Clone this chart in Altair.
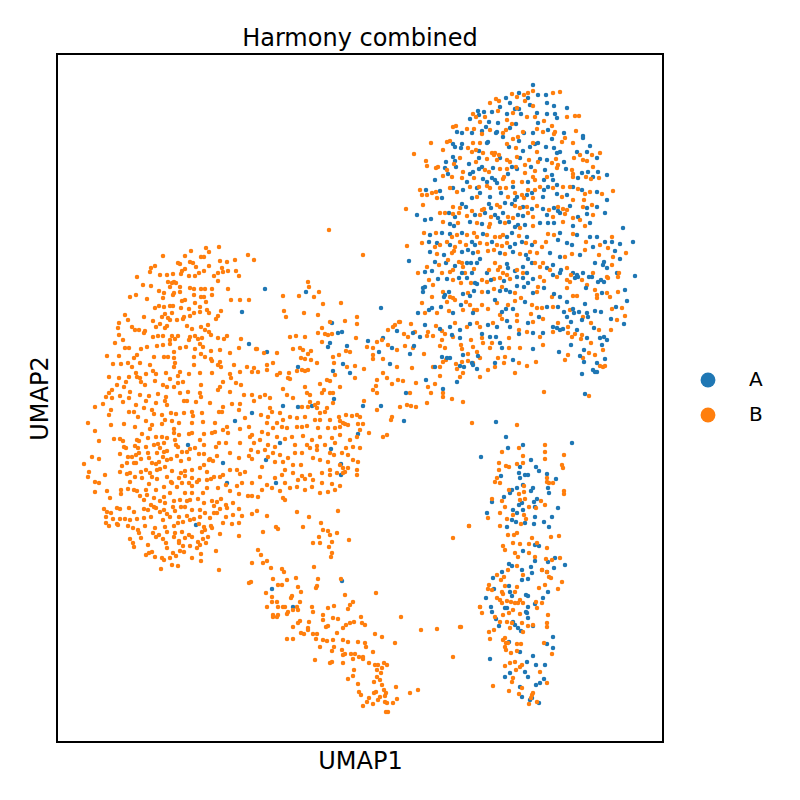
import altair as alt
import pandas as pd

# Positions (x: UMAP1, y: UMAP2, in the picture's own units)

# ---- batch A (blue) ----
A_LEFT = [(242,312),(249,344),(252,413),(235,421),(188,445),(223,463),(227,483),(196,525),
          (265,289),(306,292),(381,308),(332,323),(338,333),(342,332),(330,343),(328,347),(347,346),
          (368,341),(383,338),(397,331),(267,352),(343,364),(379,352),(390,364),(392,348),(298,367),
          (333,371),(350,373),(283,406),(298,407),(312,406),(334,399),(363,406),(381,406),(404,421),
          (358,434),(280,443),(331,449),(266,460),(341,464),(341,475),(276,483),
          (272,589),(293,607),(342,581)]

A_TOP = [(533,85),(538,95),(546,95),(519,93),(506,98),(528,98),(500,107),(547,103),(554,106),(567,108),
         (510,103),(530,105),(515,109),(519,109),(478,111),(479,115),(484,112),(492,112),(507,114),(521,114),
         (537,113),(547,114),(555,114),(557,118),(538,123),(470,119),(489,122),(498,123),(516,124),(457,132),
         (482,131),(486,127),(462,133),(472,133),(496,133),(497,132),(510,128),(524,133),(533,133),(548,130),
         (564,133),(583,136),(583,138),(552,139),(538,143),(503,137),(488,142),(487,143),(462,144),(453,144),
         (455,147),(461,148),(479,151),(509,147),(519,141),(523,151),(530,147),(535,144),(546,147),(554,148),
         (557,153),(560,152),(577,152),(587,152),(590,146),(597,158),(446,162),(453,157),(455,161),(469,164),
         (479,158),(500,158),(520,158),(540,159),(547,160),(564,162),(588,172),(445,168),(448,174),(456,167),
         (470,174),(473,172),(479,169),(482,167),(493,168),(508,174),(512,167),(517,169),(531,167),(545,170),
         (552,175),(566,169),(578,178),(582,173),(593,177),(598,172),(607,175),(435,180),(467,182),(483,179),
         (487,182),(492,178),(495,180),(497,183),(528,182),(544,180),(553,180),(557,185),(426,190),(440,191),
         (442,198),(453,188),(463,190),(477,188),(480,193),(501,193),(513,187),(517,197),(527,195),(532,193),
         (544,190),(548,187),(557,194),(573,187),(582,190),(597,192),(607,200),(472,198),(490,197),(515,200),
         (543,197),(567,195),(417,215),(462,204),(466,207),(489,204),(491,208),(505,203),(512,204),(523,207),
         (532,209),(543,209),(554,208),(558,211),(570,206),(587,208),(597,207),(449,213),(455,217),(475,215),
         (485,213),(495,215),(498,218),(503,213),(518,215),(523,216),(547,215),(560,213),(578,217),(587,214),
         (605,213),(431,219),(425,220),(450,224),(454,226),(470,222),(482,224),(500,222),(509,222),(515,227),
         (518,225),(525,225),(540,223),(548,223),(554,223),(573,226),(590,223),(623,228),(430,235),(442,233),
         (450,234),(462,233),(483,234),(507,237),(512,233),(527,237),(560,233),(577,235),(590,237),(597,237)]

A_MID = [(429,242),(437,243),(450,245),(472,242),(475,245),(492,242),(510,247),(515,244),(522,242),(532,245),
         (558,240),(567,243),(572,245),(593,247),(605,242),(612,242),(620,244),(633,242),(430,252),(444,255),
         (462,252),(468,250),(473,253),(500,253),(513,252),(526,255),(550,253),(560,257),(580,255),(615,251),
         (409,261),(435,262),(446,263),(455,266),(467,263),(471,263),(477,263),(480,259),(487,273),(507,264),
         (508,268),(515,271),(523,267),(528,259),(532,263),(547,268),(553,265),(561,270),(573,273),(577,275),
         (583,273),(589,277),(603,265),(607,268),(617,273),(635,276),(620,259),(604,262),(595,263),(425,272),
         (432,271),(462,273),(472,273),(423,288),(423,292),(438,279),(447,279),(459,278),(467,278),(475,283),
         (477,284),(491,280),(504,281),(517,277),(523,278),(527,273),(533,279),(528,283),(553,275),(560,273),
         (575,278),(578,277),(592,277),(598,282),(601,280),(604,282),(625,290),(602,293),(586,288),(560,297),
         (554,294),(544,288),(533,293),(524,287),(517,286),(510,292),(506,290),(500,291),(488,292),(474,291),
         (463,294),(445,295),(444,297),(449,292),(425,287),(418,313),(432,308),(429,310),(441,307),(453,313),
         (461,305),(470,296),(473,313),(495,300),(502,312),(506,309),(513,309),(525,302),(539,317),(547,307),
         (558,307),(564,312),(567,317),(573,309),(574,313),(579,312),(587,313),(595,311),(601,312),(611,319),
         (616,307),(624,324),(627,301),(585,304),(567,302),(413,333),(420,337),(425,325),(450,327),(460,330),
         (470,324),(482,334),(488,325),(497,327),(507,321),(510,327),(528,323),(553,327),(557,328),(563,329),
         (571,322),(577,330),(582,320),(588,317),(594,328),(600,338),(604,337),(587,338),(560,330),(543,333),
         (533,333),(519,334),(500,343),(496,337),(490,337),(460,338),(452,335),(440,329),(414,346),(410,354),
         (442,357),(447,358),(463,355),(478,356),(502,348),(533,349),(513,360),(495,363),(472,363),(473,365),
         (460,366),(450,358),(559,352),(580,356),(571,345),(584,350),(584,362),(597,363),(602,345),(605,359),
         (607,340),(426,380),(443,389),(435,367),(457,382),(464,367),(477,369),(582,374),(585,394),(595,372),
         (597,372),(593,370),(406,393)]

A_RIGHT = [(496,422),(506,437),(481,457),(508,448),(523,445),(572,443),(520,467),(531,460),(536,467),(539,471),
           (547,474),(556,479),(548,488),(549,493),(501,476),(519,473),(525,475),(528,475),(520,478),(523,485),
           (517,488),(531,491),(533,488),(512,490),(510,493),(492,502),(504,497),(519,505),(522,503),(534,502),
           (537,499),(535,507),(558,508),(513,510),(517,513),(487,513),(523,510),(512,520),(535,517),(552,517),
           (507,527),(516,522),(525,523),(534,524),(544,522),(549,527),(535,545),(539,546),(523,551),(535,561),
           (548,562),(555,558),(565,565),(509,564),(512,566),(531,567),(554,568),(522,570),
           (502,572),(493,578),(522,580),(528,579),(532,573),(547,572),(509,586),(494,589),(486,598),(510,592),
           (512,596),(526,595),(528,596),(548,592),(543,598),(535,604),(491,607),(492,612),(505,608),(507,608),
           (496,619),(513,622),(515,625),(527,613),(528,607),(526,612),(528,618),(533,626),(518,628),(521,631),
           (499,626),(520,652),(509,642),(547,644),(553,648),(553,637),(533,656),(490,659),(527,662),(525,672),
           (510,673),(505,677),(528,677),(536,665),(545,665),(536,685),(540,683),(544,679),(520,687),(522,697),
           (530,700),(532,698),(539,703)]

# ---- batch B (orange) ----
B_LEFT_UPPER = [(219,247),(206,248),(191,251),(209,252),(163,256),(185,256),(201,257),(204,257),(248,255),
    (254,260),(235,260),(220,261),(190,262),(178,263),(180,264),(193,263),(227,262),(155,266),(151,268),
    (209,266),(196,267),(222,268),(150,272),(182,271),(185,269),(204,271),(199,273),(218,273),(223,272),
    (228,271),(236,271),(239,276),(137,277),(160,275),(167,275),(173,274),(181,274),(189,276),(195,276),
    (214,276),(168,282),(174,282),(172,283),(176,283),(218,281),(143,285),(151,286),(170,287),(180,287),
    (190,288),(194,289),(201,289),(205,289),(212,289),(228,289),(159,291),(164,293),(174,293),(173,295),
    (180,292),(194,295),(201,297),(204,297),(212,295),(136,295),(130,297),(147,299),(163,298),(182,301),
    (185,300),(195,303),(206,302),(231,300),(240,300),(249,300),(155,308),(159,306),(164,307),(170,306),
    (173,306),(181,308),(189,309),(207,310),(221,311),(200,307),(165,314),(172,313),(162,317),(168,318),
    (194,313),(200,312),(209,313),(218,316),(144,317),(125,315),(128,320),(184,317),(183,319),(190,316),
    (170,320),(177,320),(216,319),(153,321),(160,324),(167,326),(156,327),(165,328),(187,326),(192,329),
    (201,327),(208,325),(119,323),(118,328),(132,327),(145,331),(139,330),(205,330),(209,332),(135,330),
    (119,335),(153,337),(158,336),(163,336),(172,336),(178,336),(190,337),(195,336),(202,338),(211,335),
    (218,338),(227,336),(241,339),(123,340),(115,343),(144,333),(170,340),(175,339),(189,340),(198,339),
    (224,339),(129,348),(125,348),(141,349),(147,347),(157,346),(163,345),(170,344),(180,348),(186,347),
    (195,349),(200,344),(203,347),(211,351),(220,350),(230,353),(239,348),(256,349),(107,356),(119,356),
    (137,355),(134,358),(154,357),(164,357),(168,357),(174,352),(174,358),(194,357),(201,354),(205,357),
    (211,359),(220,362),(212,361),(113,364),(121,364),(128,363),(140,363),(150,365),(175,363),(174,367),
    (194,365),(218,365),(221,367),(234,365),(247,367),(252,372),(254,368),(132,367),(109,377),(119,378),
    (129,377),(136,373),(137,377),(146,374),(156,374),(153,371),(166,373),(180,372),(178,376),(189,374),
    (200,373),(212,373),(230,374),(240,372),(231,378),(140,378),(126,382),(141,382),(155,381),(170,379),
    (223,382),(117,385),(124,387),(145,385),(163,385),(167,387),(174,387),(178,383),(183,382),(201,385),
    (220,387),(236,383),(241,385),(112,390),(130,392),(106,397),(109,393),(140,395),(149,396),(158,394),
    (166,397),(180,393),(188,392),(200,393),(201,397),(218,390),(230,392),(244,395),(252,395),(120,396),
    (129,398),(95,407),(103,404),(112,398),(123,402),(136,405),(146,401),(156,403),(165,401),(167,405),
    (184,401),(187,401),(196,402),(210,403),(223,407),(232,404),(240,404),(254,401),(134,412),(144,408),
    (152,410),(109,415),(111,410),(129,412),(138,417),(146,421),(154,414),(162,415),(171,413),(176,414),
    (184,413),(192,412),(193,416),(202,413),(219,412),(222,412),(239,410),(245,418),(88,423),(111,425),
    (124,424),(135,427),(152,425),(162,424),(165,420),(172,421),(179,423),(192,423),(203,422),(215,423),
    (249,427),(227,427),(150,429),(174,429)]

B_LEFT_LOWER = [(95,431),(142,434),(137,440),(139,441),(114,439),(120,439),(123,441),(148,438),(156,437),
    (162,437),(167,438),(174,433),(179,435),(189,434),(192,433),(204,434),(212,433),(215,432),(223,430),
    (228,433),(240,429),(250,437),(252,435),(175,440),(99,441),(124,447),(126,448),(135,446),(138,448),
    (146,447),(154,445),(158,444),(164,443),(167,451),(176,445),(178,447),(182,452),(187,452),(190,449),
    (195,448),(200,440),(204,445),(216,447),(219,443),(226,443),(240,443),(251,450),(254,443),(120,454),
    (136,455),(139,453),(148,453),(157,453),(160,448),(164,452),(84,464),(92,457),(99,459),(128,457),
    (132,457),(136,463),(141,459),(149,458),(152,463),(159,462),(156,464),(163,457),(167,460),(171,459),
    (177,456),(181,461),(189,459),(199,454),(204,454),(210,459),(213,461),(217,456),(230,453),(239,458),
    (249,456),(252,459),(122,466),(127,463),(134,463),(204,465),(209,460),(89,472),(88,477),(105,475),
    (120,472),(127,474),(130,473),(141,472),(146,470),(150,473),(157,470),(160,469),(165,467),(172,471),
    (181,473),(185,471),(192,470),(200,468),(207,472),(214,477),(220,477),(223,475),(230,470),(237,470),
    (240,474),(245,472),(135,477),(142,478),(152,477),(157,479),(167,477),(171,482),(179,478),(185,476),
    (192,478),(199,480),(207,480),(95,482),(99,483),(95,492),(107,491),(121,490),(128,489),(130,482),
    (134,490),(137,491),(146,490),(149,484),(156,490),(164,487),(172,483),(177,487),(182,483),(189,483),
    (192,486),(197,482),(203,493),(211,479),(218,488),(226,485),(230,491),(237,486),(242,483),(252,483),
    (239,494),(140,496),(147,495),(154,498),(164,497),(170,493),(185,493),(192,493),(207,488),(110,498),
    (121,494),(144,500),(160,501),(165,503),(180,500),(187,501),(190,500),(198,499),(204,503),(212,501),
    (214,506),(217,502),(221,499),(226,505),(233,503),(248,496),(252,496),(151,505),(154,507),(173,507),
    (174,501),(104,509),(107,512),(111,513),(117,508),(120,509),(129,508),(134,512),(144,509),(148,510),
    (156,508),(160,512),(164,510),(167,514),(175,511),(181,507),(185,507),(192,510),(200,510),(205,513),
    (214,513),(220,509),(227,508),(239,509),(106,517),(113,519),(120,519),(125,519),(130,520),(137,519),
    (144,518),(151,517),(163,520),(170,517),(179,517),(187,516),(194,519),(200,517),(210,518),(217,513),
    (226,517),(233,515),(242,516),(252,514),(117,524),(106,523),(109,526),(118,525),(128,526),(133,528),
    (138,530),(145,526),(155,528),(165,527),(174,526),(178,523),(183,522),(190,520),(199,524),(204,527),
    (211,526),(205,530),(223,523),(232,524),(239,523),(139,533),(153,533),(159,535),(167,532),(175,533),
    (182,532),(189,535),(202,532),(212,528),(220,534),(130,539),(133,543),(134,547),(141,538),(148,545),
    (156,537),(163,539),(166,543),(174,537),(179,541),(185,538),(192,537),(198,542),(203,539),(208,537),
    (206,543),(239,536),(167,548),(179,543),(183,546),(190,546),(197,548),(200,545),(146,555),(149,553),
    (152,552),(155,557),(162,558),(164,560),(170,558),(173,553),(176,556),(180,551),(184,552),(192,558),
    (201,554),(216,551),(252,563),(161,569),(172,565),(178,566),(201,561),(219,570),(249,583),(251,582)]

B_TOP = [(533,91),(528,93),(553,93),(560,92),(524,95),(517,97),(512,94),(496,99),(499,101),(490,103),
    (525,101),(579,116),(533,106),(517,108),(476,117),(473,114),(498,111),(513,113),(507,120),(527,117),
    (535,117),(544,121),(552,126),(567,117),(575,116),(485,117),(512,124),(480,122),(453,127),(456,126),
    (467,129),(474,129),(490,130),(482,134),(503,133),(506,130),(523,132),(537,129),(543,132),(555,132),
    (554,134),(576,131),(565,138),(562,142),(533,143),(518,137),(513,139),(480,143),(473,143),(468,148),
    (450,141),(447,142),(431,143),(472,152),(476,150),(483,153),(492,153),(495,153),(499,155),(507,144),
    (516,148),(537,152),(573,143),(580,155),(592,155),(600,153),(443,150),(414,154),(426,161),(427,166),
    (460,158),(454,164),(476,162),(487,159),(494,155),(497,160),(507,160),(510,162),(517,157),(525,165),
    (529,160),(538,162),(552,163),(556,159),(558,165),(574,158),(583,160),(587,161),(593,167),(573,174),
    (436,168),(438,167),(447,170),(443,176),(452,177),(463,172),(485,170),(489,172),(500,169),(507,169),
    (504,177),(516,167),(525,173),(535,171),(533,177),(547,177),(557,168),(572,170),(573,177),(586,177),
    (591,179),(599,178),(462,178),(474,178),(503,179),(513,182),(522,182),(535,180),(420,190),(427,195),
    (432,193),(436,192),(437,198),(422,195),(450,188),(457,192),(470,187),(479,187),(487,186),(490,188),
    (500,188),(506,188),(515,193),(522,195),(528,190),(535,190),(540,187),(553,188),(563,187),(570,187),
    (578,189),(585,194),(590,192),(602,194),(613,191),(477,197),(508,197),(524,198),(533,198),(562,197),
    (573,200),(584,200),(406,209),(423,205),(453,207),(460,208),(472,211),(482,210),(484,209),(497,205),
    (500,207),(515,206),(520,208),(527,207),(537,206),(549,210),(558,207),(563,209),(567,210),(583,207),
    (592,205),(440,213),(445,213),(453,214),(459,213),(467,216),(480,215),(491,217),(508,217),(513,218),
    (528,213),(533,217),(553,217),(565,214),(573,218),(593,215),(443,222),(458,223),(477,223),(489,227),
    (490,224),(505,223),(520,228),(533,226),(563,222),(580,220),(585,226),(424,233),(436,233),(452,237),
    (457,235),(467,235),(474,233),(477,237),(487,235),(495,237),(500,237),(503,235),(519,236),(548,234),
    (554,235),(573,234),(612,237)]

B_MID = [(407,246),(422,243),(435,247),(440,245),(447,242),(455,247),(460,242),(466,245),(480,243),(487,244),
    (497,245),(502,246),(507,243),(526,243),(535,242),(542,247),(546,242),(586,242),(600,245),(437,254),
    (452,253),(454,251),(478,252),(488,251),(494,250),(505,254),(520,254),(530,252),(537,253),(565,257),
    (572,254),(585,250),(599,255),(608,248),(626,253),(418,273),(427,267),(439,265),(448,260),(453,270),
    (459,262),(462,263),(463,267),(474,269),(489,270),(495,263),(500,267),(498,270),(503,273),(517,270),
    (535,263),(540,267),(543,263),(550,270),(567,268),(571,275),(593,273),(612,265),(618,277),(613,257),
    (442,273),(450,272),(465,273),(429,280),(433,285),(453,280),(461,283),(471,283),(482,280),(487,282),
    (494,279),(500,278),(507,275),(510,279),(523,273),(540,277),(544,281),(557,277),(567,280),(570,282),
    (582,280),(587,285),(608,278),(607,277),(619,273),(618,292),(607,293),(610,297),(597,295),(595,290),
    (577,296),(567,288),(552,297),(537,292),(538,287),(515,293),(502,287),(494,289),(482,292),(468,293),
    (453,298),(450,297),(443,292),(422,303),(425,313),(437,313),(432,297),(447,302),(449,311),(455,300),
    (463,310),(466,302),(470,305),(474,310),(477,310),(482,305),(488,309),(497,303),(500,315),(508,305),
    (517,315),(515,301),(521,298),(532,305),(531,314),(537,308),(542,308),(553,307),(570,310),(583,317),
    (591,323),(612,309),(622,308),(625,316),(597,298),(573,296),(400,322),(411,324),(415,332),(404,334),
    (408,337),(427,336),(428,332),(436,326),(442,331),(455,323),(467,327),(477,323),(480,327),(493,323),
    (502,319),(517,321),(519,330),(533,322),(543,319),(558,323),(568,327),(599,330),(611,330),(617,320),
    (575,334),(582,335),(568,333),(553,332),(540,337),(527,332),(509,338),(482,338),(471,340),(453,337),
    (445,334),(442,340),(433,336),(405,346),(413,348),(424,354),(440,346),(445,348),(443,362),(461,345),
    (462,349),(468,354),(473,347),(477,352),(480,358),(483,343),(492,343),(490,348),(509,348),(520,348),
    (543,345),(536,362),(519,363),(505,357),(498,358),(495,367),(468,361),(462,362),(456,364),(446,360),
    (433,367),(440,367),(565,360),(568,355),(572,337),(581,339),(589,353),(583,358),(595,355),(603,350),
    (591,343),(603,367),(412,368),(403,381),(416,383),(428,387),(435,384),(431,393),(443,397),(440,376),
    (457,369),(463,373),(460,377),(473,363),(480,377),(488,370),(504,363),(515,373),(527,366),(544,392),
    (589,396),(600,366),(605,366),(410,393),(443,393),(452,399),(463,402),(411,406),(329,230),(363,255)]

B_CENTER = [(308,282),(309,287),(319,292),(283,296),(299,296),(314,297),(323,304),(341,303),(284,311),
    (286,317),(304,313),(318,315),(357,317),(345,321),(330,322),(357,324),(322,328),(318,333),(325,334),
    (328,335),(332,334),(305,337),(290,337),(296,336),(322,342),(356,338),(367,347),(377,342),(382,340),
    (388,330),(393,327),(399,322),(395,325),(257,349),(264,353),(277,353),(273,363),(293,349),(300,348),
    (303,350),(311,351),(308,354),(301,358),(305,359),(311,360),(317,363),(333,357),(339,355),(346,351),
    (350,352),(334,363),(355,366),(364,369),(373,355),(373,359),(383,359),(397,350),(388,345),(373,348),
    (258,372),(267,370),(267,365),(280,373),(277,375),(289,373),(297,371),(288,378),(290,379),(302,370),
    (305,371),(308,370),(320,384),(327,380),(330,381),(335,375),(347,367),(355,378),(340,387),(324,390),
    (322,393),(330,393),(333,393),(283,389),(305,387),(307,393),(377,380),(376,386),(373,390),(387,378),
    (392,384),(398,380),(397,367),(383,373),(377,393),(260,397),(265,395),(270,398),(287,395),(293,398),
    (310,395),(318,403),(310,402),(315,405),(317,408),(308,407),(302,407),(320,413),(325,412),(327,408),
    (333,403),(339,417),(346,415),(352,416),(357,415),(360,417),(364,401),(377,410),(400,407),(407,405),
    (416,407),(427,403),(270,408),(272,412),(268,417),(261,415),(280,413),(290,417),(283,420),(297,418),
    (305,417),(315,420),(320,420),(330,420),(340,421),(345,424),(348,425),(358,424),(363,424),(392,417),
    (391,420),(267,423),(277,423),(262,432),(273,428),(282,427),(287,428),(297,427),(302,427),(307,426),
    (318,428),(328,428),(335,428),(343,423),(340,427),(360,430),(369,433),(383,437),(387,435),(357,437),
    (350,440),(340,435),(332,438),(320,437),(312,440),(303,436),(292,437),(285,439),(277,437),(268,434),
    (260,440),(275,447),(268,445),(295,445),(307,445),(317,446),(325,445),(335,443),(346,448),(353,447),
    (360,448),(258,452),(265,450),(268,457),(273,453),(280,455),(288,458),(295,453),(302,453),(310,448),
    (317,450),(320,460),(330,453),(334,455),(342,453),(348,455),(353,460),(358,462),(262,467),(275,462),
    (283,462),(285,470),(293,465),(301,465),(313,458),(328,462),(330,470),(340,465),(343,468),(348,468),
    (357,470),(260,477),(275,478),(282,475),(293,473),(302,476),(310,475),(322,473),(330,475),(337,473),
    (343,473),(345,472),(357,475),(267,485),(285,483),(298,480),(305,479),(313,480),(322,483),(332,484),
    (340,486),(262,490),(272,488),(280,491),(290,488),(297,487),(305,490),(312,487),(320,493),(328,492),
    (335,490),(283,498),(258,497)]

B_ARM = [(257,511),(267,516),(297,512),(309,517),(338,511),(285,500),(276,527),(278,529),(263,532),(303,527),
    (321,523),(323,530),(328,531),(337,533),(330,535),(319,537),(320,543),(313,543),(332,542),(329,547),
    (349,540),(332,553),(331,557),(258,550),(261,555),(263,563),(267,561),(271,568),(282,569),(284,572),
    (314,567),(273,579),(287,580),(296,578),(318,579),(341,579),(266,593),(278,585),(282,585),(298,587),
    (301,592),(292,596),(291,598),(317,586),(316,588),(345,595),(353,602),(350,605),(348,609),(334,606),
    (328,608),(312,607),(313,612),(300,602),(297,607),(298,610),(293,610),(288,612),(285,607),(283,607),
    (277,602),(278,607),(272,597),(272,602),(267,607),(273,615),(273,617),(277,617),(278,615),(287,614),
    (323,615),(323,620),(309,622),(298,623),(300,621),(293,627),(308,628),(308,630),(301,633),(304,634),
    (313,634),(317,634),(316,639),(323,640),(326,627),(328,626),(333,618),(338,619),(343,628),(346,625),
    (350,623),(354,622),(361,617),(362,623),(365,625),(337,633),(333,640),(334,647),(332,651),(327,641),
    (320,647),(343,640),(348,642),(358,642),(365,643),(366,647),(373,652),(342,650),(343,655),(345,654),
    (351,654),(355,654),(359,657),(363,657),(363,659),(353,659),(343,663),(330,663),(332,662),(315,660),
    (369,663),(375,634),(382,637),(376,593),(401,617),(395,643),(421,630),(437,629),(460,627),(453,538),
    (469,526),(453,657),(287,639),(293,639),(375,665),(378,665),(384,663),(387,665),(382,668),(377,670),
    (354,670),(353,676),(348,679),(358,684),(359,692),(361,695),(367,702),(369,698),(363,706),(373,704),
    (374,693),(376,692),(374,682),(377,677),(380,680),(382,685),(381,673),(384,690),(386,693),(385,696),
    (380,697),(378,700),(385,702),(387,703),(388,712),(386,712),(393,703),(397,699),(396,687),(410,693),
    (418,690),(480,607)]

B_RIGHT = [(472,423),(517,425),(519,448),(545,445),(545,452),(502,452),(523,456),(545,459),(564,455),
    (523,463),(517,464),(509,467),(506,466),(499,463),(499,470),(562,465),(563,468),(547,478),(549,483),
    (553,483),(547,482),(564,491),(564,494),(497,478),(495,482),(500,483),(524,486),(524,492),(519,494),
    (509,490),(502,501),(492,499),(520,500),(525,499),(541,501),(529,507),(536,508),(545,505),(500,513),
    (488,518),(505,507),(513,515),(524,515),(507,519),(526,519),(469,526),(500,526),(521,524),(514,535),
    (517,533),(508,535),(532,538),(537,543),(529,544),(520,544),(513,543),(551,537),(559,536),(503,546),
    (505,550),(515,553),(518,557),(529,553),(535,557),(547,548),(546,559),(552,560),(560,558),(517,566),
    (542,570),(508,570),
    (497,575),(504,577),(501,580),(505,586),(523,575),(542,570),(547,572),(549,577),(517,587),(489,585),
    (488,589),(492,590),(502,592),(497,598),(503,594),(515,592),(520,600),(518,603),(523,603),(539,588),
    (545,585),(551,578),(562,582),(558,589),(542,603),(536,602),(537,608),(480,607),(482,613),(500,600),
    (502,603),(507,601),(511,602),(515,603),(513,610),(509,613),(503,615),(495,617),(500,622),(512,623),
    (507,622),(528,626),(533,625),(520,614),(522,623),(510,628),(523,632),(548,615),(547,623),(547,627),
    (461,627),(489,632),(494,630),(505,638),(503,640),(506,643),(508,643),(505,647),(506,650),(511,653),
    (517,644),(521,644),(517,651),(490,639),(544,643),(552,654),(505,666),(510,663),(515,662),(520,667),
    (522,665),(516,670),(513,678),(512,682),(540,672),(547,683),(522,688),(493,686),(509,691),(519,694),
    (532,695),(533,693),(531,698),(537,702),(529,704)]

LABELS = ["A", "B"]
COLORS = ["#1f77b4", "#ff7f0e"]


def frame(groups, label):
    pts = [p for g in groups for p in g]
    n = len(pts)
    return pd.DataFrame({
        "UMAP1": [p[0] for p in pts],
        "UMAP2": [p[1] for p in pts],
        "batch": label,
        # interleave the two batches evenly in drawing order
        "ord": [i / n for i in range(n)],
    })


df = pd.concat([
    frame([A_LEFT, A_TOP, A_MID, A_RIGHT], "A"),
    frame([B_LEFT_UPPER, B_LEFT_LOWER, B_TOP, B_MID, B_CENTER, B_ARM, B_RIGHT], "B"),
], ignore_index=True).sort_values("ord", kind="stable")

FONT = "DejaVu Sans"
axis_common = dict(labels=False, ticks=False, domain=False, grid=False,
                   titleFontSize=24, titleFontWeight="normal", titleColor="black",
                   titleFont=FONT)

chart = alt.Chart(df).mark_circle(size=20, opacity=1, strokeWidth=0).encode(
    x=alt.X("UMAP1:Q", scale=alt.Scale(domain=[57, 663], nice=False, zero=False),
            axis=alt.Axis(title="UMAP1", titlePadding=7, **axis_common)),
    y=alt.Y("UMAP2:Q", scale=alt.Scale(domain=[54, 742], reverse=True, nice=False, zero=False),
            axis=alt.Axis(title="UMAP2", titlePadding=5, **axis_common)),
    color=alt.Color("batch:N", scale=alt.Scale(domain=LABELS, range=COLORS),
                    legend=alt.Legend(title=None, orient="none", legendX=641, legendY=316,
                                      symbolSize=220, symbolType="circle", symbolStrokeWidth=0,
                                      symbolOpacity=1, labelFontSize=20, labelFont=FONT,
                                      labelColor="black", labelOffset=31, rowPadding=15, padding=0)),
    order=alt.Order("ord:Q"),
).properties(
    width=606, height=688,
    title=alt.TitleParams("Harmony combined", fontSize=24, fontWeight="normal",
                          font=FONT, color="black", offset=3),
    padding={"left": 49, "top": 46, "right": 129, "bottom": 50},
    autosize=alt.AutoSizeParams(type="none"),
).configure(font=FONT).configure_view(stroke="black", strokeWidth=2)

chart.save("out.html", embed_options={"renderer": "svg", "actions": False})
